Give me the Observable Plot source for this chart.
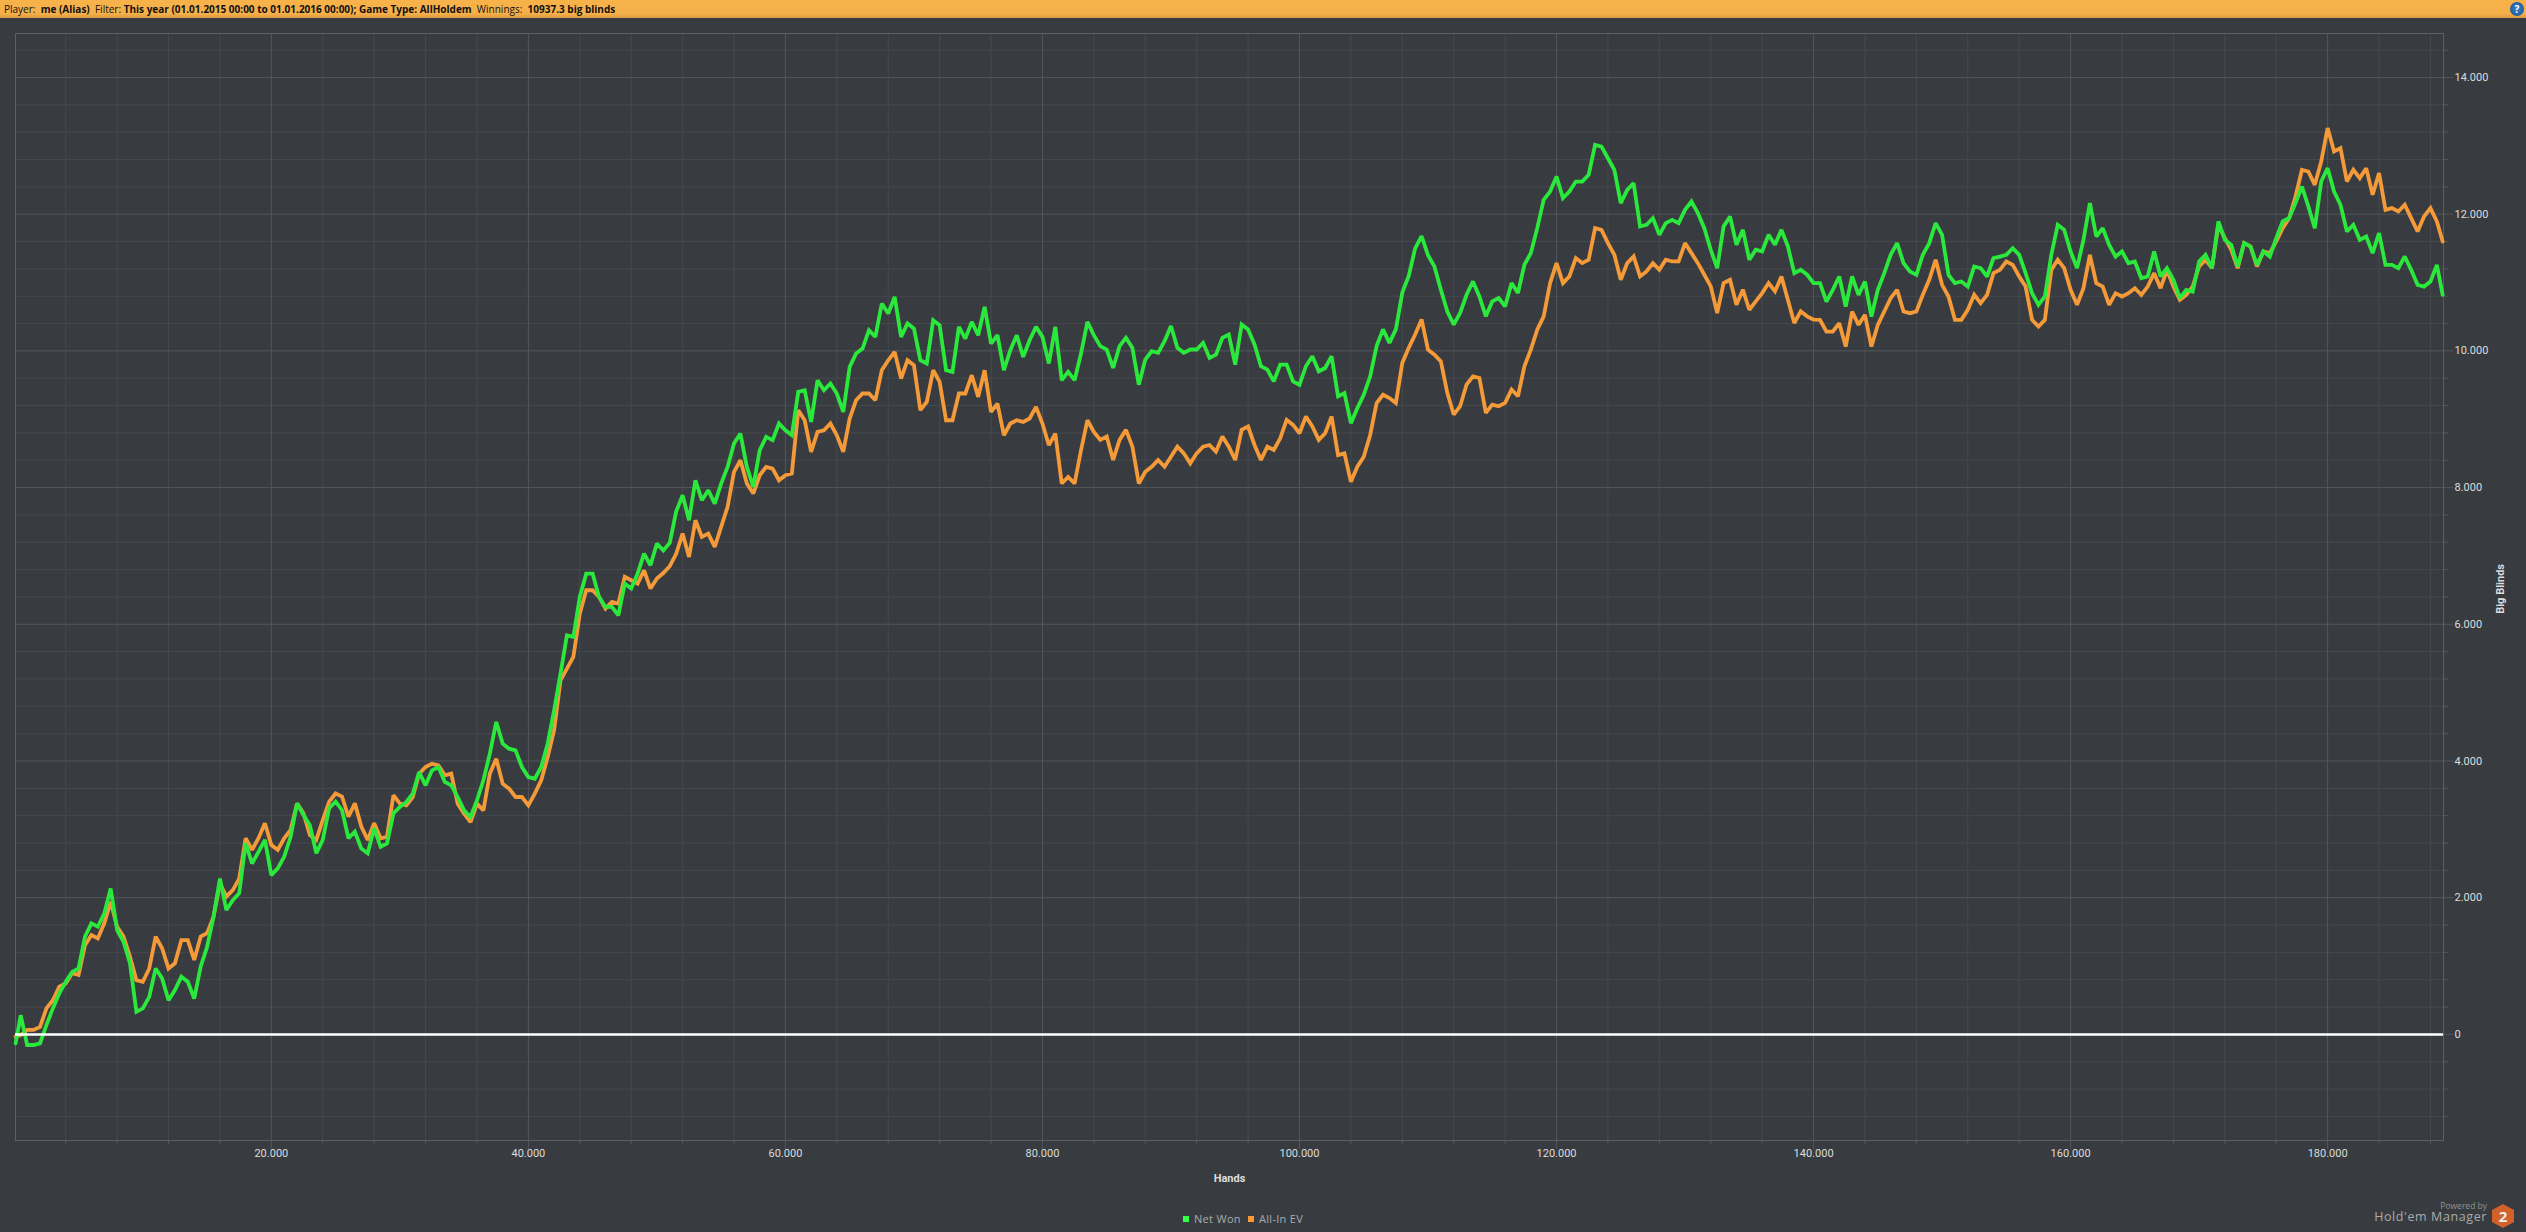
<!DOCTYPE html>
<html>
<head>
<meta charset="utf-8">
<script src="https://cdn.jsdelivr.net/npm/d3@7"></script>
<script src="https://cdn.jsdelivr.net/npm/@observablehq/plot@0.6"></script>
<style>
html,body{margin:0;padding:0;background:#383c40;overflow:hidden;width:2526px;height:1232px}
#head{position:relative;height:18px;line-height:18px;background:linear-gradient(#f8b24a 0%,#f6b04a 75%,#dc9a40 100%);color:#111;font:400 10px/18px "Open Sans",sans-serif;white-space:pre;padding-left:4px;box-sizing:border-box}
#head b{font-weight:700}
#help{position:absolute;right:2px;top:2px;width:14px;height:14px;border-radius:50%;background:radial-gradient(#3a83c8,#134f8e);color:#fff;font:700 10px/14px "Open Sans",sans-serif;text-align:center}
#chart svg{display:block}
#foot{position:relative;height:32px;font-family:"Open Sans",sans-serif}
.sw{position:absolute;top:16px;width:6px;height:6px}
.lg{position:absolute;top:11px;font-size:11px;line-height:16px;color:#a8abad;letter-spacing:.3px}
#pw{position:absolute;right:39px;top:0px;font-size:8.5px;line-height:12px;color:#8f9294}
#hm{position:absolute;right:39px;top:9px;font-size:12.5px;line-height:16px;color:#a8abad;letter-spacing:.6px}
#hex{position:absolute;left:2492px;top:4px;width:22px;height:24px;background:#d2622a;clip-path:polygon(50% 0,100% 25%,100% 75%,50% 100%,0 75%,0 25%);color:#eee;font:700 15px/24px "Open Sans",sans-serif;text-align:center}
</style>
</head>
<body>
<div id="head">Player:  <b>me (Alias)</b>  Filter: <b>This year (01.01.2015 00:00 to 01.01.2016 00:00); Game Type: AllHoldem</b>  Winnings:  <b>10937.3 big blinds</b><div id="help">?</div></div>
<div id="chart"></div>
<div id="foot">
  <span class="sw" style="left:1183px;background:#33ff44"></span><span class="lg" style="left:1194px">Net Won</span>
  <span class="sw" style="left:1248px;background:#ff9933"></span><span class="lg" style="left:1259px">All-In EV</span>
  <span id="pw">Powered by</span><span id="hm">Hold'em Manager</span><div id="hex">2</div>
</div>
<script>
const netWon = [
-130,280,-155,-155,-130,135,380,600,770,915,965,1430,1625,1575,1770,2135,1525,1355,1040,330,
380,550,965,820,500,650,845,770,525,990,1280,1720,2280,1820,1965,2065,2795,2500,2670,2845,
2330,2430,2600,2890,3380,3210,3060,2650,2845,3310,3405,3280,2870,2965,2720,2650,3015,2745,2795,3235,
3327,3400,3522,3839,3644,3863,3912,3693,3644,3473,3278,3180,3424,3717,4107,4571,4254,4180,4156,3912,
3766,3741,3912,4254,4741,5278,5839,5815,6400,6741,6741,6400,6254,6254,6132,6595,6522,6741,7034,6863,
7180,7080,7190,7650,7888,7522,8107,7815,7961,7766,8059,8302,8644,8790,8302,8010,8546,8741,8693,8937,
8839,8766,9400,9424,8961,9571,9424,9522,9376,9107,9766,9961,10034,10302,10205,10693,10546,10790,10205,10400,
10327,9863,9815,10449,10376,9717,9693,10351,10180,10424,10229,10644,10107,10229,9717,10010,10229,9912,10156,10351,
10205,9815,10351,9571,9693,9571,9961,10424,10229,10069,10020,9750,10069,10191,10044,9505,9873,9995,9971,10142,
10363,10044,9971,10020,10020,10118,9897,9946,10191,10240,9799,10387,10314,10093,9775,9726,9554,9799,9799,9554,
9505,9775,9922,9701,9750,9922,9334,9383,8942,9162,9358,9628,10069,10314,10118,10314,10853,11098,11500,11680,
11400,11235,10895,10578,10383,10554,10821,11016,10797,10505,10724,10773,10651,10992,10846,11260,11430,11795,12209,12331,
12550,12234,12331,12477,12477,12575,13013,12989,12818,12648,12161,12356,12453,11820,11844,11942,11698,11869,11917,11869,
12063,12185,12015,11795,11479,11211,11820,11966,11552,11771,11333,11479,11455,11698,11552,11771,11528,11138,11187,11114,
10992,10990,10722,10893,11088,10649,11088,10820,11015,10502,10893,11137,11405,11576,11283,11161,11112,11405,11576,11868,
11698,11112,10990,11015,10941,11234,11210,11088,11356,11380,11405,11502,11405,11137,10844,10673,10795,11405,11844,11771,
11454,11210,11624,12161,11673,11795,11551,11380,11454,11283,11307,11063,11088,11454,11088,11210,11039,10771,10893,10868,
11307,11405,11210,11893,11624,11551,11234,11576,11527,11259,11454,11380,11649,11893,11941,12161,12405,12112,11795,12478,
12673,12332,12137,11746,11844,11624,11673,11429,11722,11259,11259,11210,11380,11185,10966,10941,11015,11259,10820
];
const allInEV = [
-35,-10,65,65,110,380,500,700,745,895,870,1305,1455,1405,1625,1940,1575,1430,1135,795,
770,965,1430,1260,965,1040,1380,1380,1090,1430,1480,1720,2210,2015,2110,2280,2870,2700,2870,3090,
2770,2700,2870,2990,3380,3235,2915,2845,3135,3405,3525,3480,3185,3380,3040,2845,3090,2870,2890,3500,
3376,3351,3473,3815,3912,3961,3937,3790,3815,3376,3229,3107,3376,3278,3815,4034,3668,3595,3473,3473,
3351,3522,3717,4059,4449,5180,5351,5522,6156,6498,6498,6400,6229,6327,6302,6693,6644,6595,6790,6522,
6670,6750,6850,7030,7327,6985,7522,7278,7327,7132,7424,7717,8229,8400,8059,7912,8180,8302,8278,8107,
8180,8205,9132,8985,8522,8815,8839,8937,8766,8522,9010,9278,9376,9376,9278,9717,9863,9985,9595,9863,
9790,9132,9254,9717,9546,8985,8985,9376,9376,9644,9327,9717,9107,9229,8766,8937,8985,8961,9010,9180,
8937,8620,8790,8059,8156,8059,8546,8985,8815,8697,8746,8403,8697,8844,8599,8060,8231,8305,8403,8305,
8452,8599,8501,8354,8501,8599,8623,8525,8746,8599,8403,8844,8893,8623,8403,8599,8550,8721,8991,8917,
8795,9040,8893,8697,8795,9040,8476,8501,8084,8305,8452,8770,9236,9358,9309,9236,9824,10044,10240,10460,
10018,9945,9847,9385,9068,9190,9507,9628,9604,9093,9214,9190,9239,9434,9336,9774,10018,10310,10505,10992,
11284,10992,11089,11357,11284,11333,11795,11771,11576,11406,11041,11284,11382,11089,11162,11284,11187,11333,11308,11308,
11576,11430,11284,11114,10943,10554,10992,11041,10675,10895,10602,10724,10846,10992,10870,11089,10748,10408,10578,10505,
10456,10454,10283,10283,10405,10063,10576,10381,10527,10063,10381,10576,10771,10893,10576,10551,10576,10820,11039,11332,
10966,10795,10454,10454,10600,10820,10698,10820,11137,11185,11307,11259,11088,10941,10454,10356,10454,11185,11332,11210,
10893,10673,10917,11405,10990,10941,10673,10844,10795,10844,10917,10820,10941,11137,10917,11185,10941,10746,10820,10941,
11234,11332,11210,11844,11649,11478,11210,11576,11527,11234,11454,11429,11600,11795,11941,12259,12649,12624,12429,12771,
13259,12917,12966,12478,12649,12527,12673,12283,12600,12063,12088,12039,12137,11941,11746,11966,12088,11893,11600
];
const hands = netWon.map((_, i) => i === 0 ? 100 : i === netWon.length - 1 ? 188950 : i * 500);

const majorX = [20000,40000,60000,80000,100000,120000,140000,160000,180000];
const minorX = [4000,8000,12000,16000,24000,28000,32000,36000,44000,48000,52000,56000,64000,68000,72000,76000,84000,88000,92000,96000,104000,108000,112000,116000,124000,128000,132000,136000,144000,148000,152000,156000,164000,168000,172000,176000,184000,188000];
const majorY = [0,2000,4000,6000,8000,10000,12000,14000];
const minorY = [-1200,-800,-400,400,800,1200,1600,2400,2800,3200,3600,4400,4800,5200,5600,6400,6800,7200,7600,8400,8800,9200,9600,10400,10800,11200,11600,12400,12800,13200,13600,14400];

const fmt = d => d3.format(",")(d).replace(/,/g, ".");
const rows = hands.map((h, i) => ({h, net: netWon[i], ev: allInEV[i]}));
const gridMajor = "#53575a", gridMinor = "#46494c", txt = "#dddddd";

const chart = Plot.plot({
  width: 2526, height: 1182,
  marginLeft: 15, marginRight: 83, marginTop: 15, marginBottom: 60,
  style: {background: "#383c40", fontFamily: "Roboto, sans-serif", fontSize: "11px"},
  x: {domain: [93, 189015]},
  y: {domain: [-1552, 14643]},
  marks: [
    Plot.gridY(minorY, {stroke: gridMinor, strokeOpacity: 1}),
    Plot.gridX(minorX, {stroke: gridMinor, strokeOpacity: 1}),
    Plot.gridY(majorY, {stroke: gridMajor, strokeOpacity: 1}),
    Plot.gridX(majorX, {stroke: gridMajor, strokeOpacity: 1}),
    Plot.axisX(minorX, {tickSize: 4.5, tickFormat: () => "", label: null, stroke: gridMajor}),
    Plot.axisX(majorX, {tickSize: 9, tickPadding: 0, tickFormat: fmt, label: null, stroke: gridMajor, color: txt, fill: txt}),
    Plot.axisY(minorY, {anchor: "right", tickSize: 4.5, tickFormat: () => "", label: null, stroke: gridMajor}),
    Plot.axisY(majorY, {anchor: "right", tickSize: 9, tickPadding: 2, tickFormat: fmt, label: null, stroke: gridMajor, color: txt, fill: txt}),
    Plot.frame({stroke: "#5c6062"}),
    Plot.line(rows, {x: "h", y: "ev", stroke: "#f59a38", strokeWidth: 3.8, strokeLinejoin: "miter", strokeMiterlimit: 2}),
    Plot.line(rows, {x: "h", y: "net", stroke: "#2ae83c", strokeWidth: 3.8, strokeLinejoin: "miter", strokeMiterlimit: 2}),
    Plot.ruleY([0], {stroke: "#ffffff", strokeWidth: 2.5}),
    Plot.text(["Hands"], {text: d => d, frameAnchor: "bottom", dy: 41, fontWeight: 700, fontSize: 11, fill: txt}),
    Plot.text(["Big Blinds"], {text: d => d, frameAnchor: "right", dx: 57, dy: -23, rotate: -90, fontWeight: 700, fontSize: 11, fill: txt})
  ]
});
document.getElementById("chart").append(chart);
</script>
</body>
</html>
